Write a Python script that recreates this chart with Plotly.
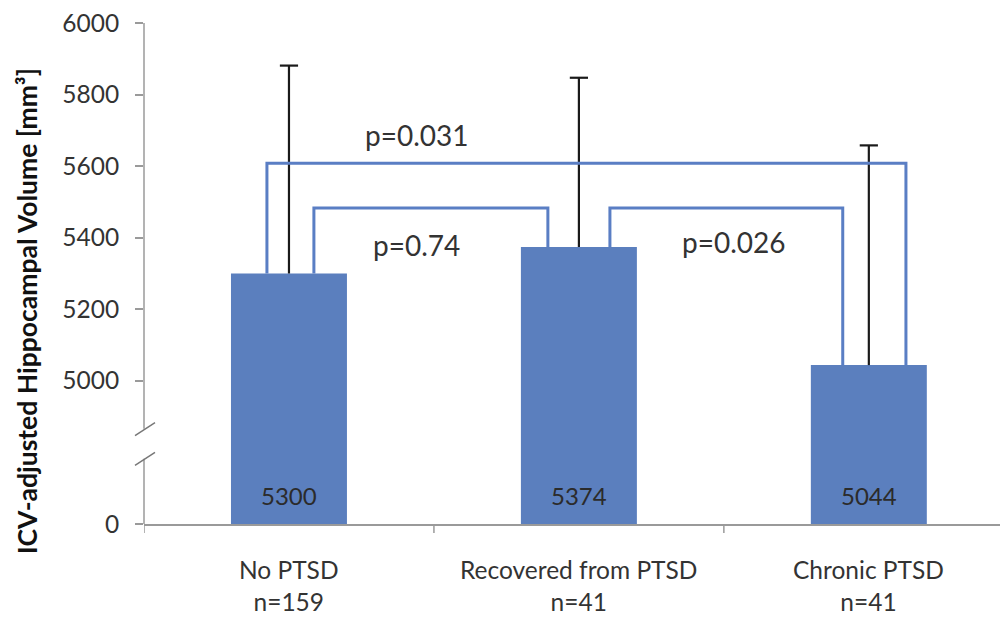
import plotly.graph_objects as go

# ---- data ----
groups = ["No PTSD", "Recovered from PTSD", "Chronic PTSD"]
n_sizes = [159, 41, 41]
means = [5300, 5374, 5044]
sds = [581, 473, 614]
y_ticks = [0, 5000, 5200, 5400, 5600, 5800, 6000]
# comparisons: (group a, group b, p-label, bracket height)
comparisons = [
    (0, 2, "p=0.031", 5608),
    (0, 1, "p=0.74", 5483),
    (1, 2, "p=0.026", 5483),
]

# ---- broken axis mapping: 0 drawn at 4600, values >= 4800 drawn as is ----
ZERO_DISP = 4600
def disp(v):
    return ZERO_DISP if v == 0 else v

BAR_COLOR = "#5b7fbe"
LINE_COLOR = "#5a7ec4"
AXIS_COLOR = "#9a9a9a"
FONT = "Lato"

fig = go.Figure()
fig.add_trace(go.Bar(
    x=list(range(len(groups))),
    y=[m - ZERO_DISP for m in means],
    base=[ZERO_DISP] * len(means),
    width=0.4,
    marker=dict(color=BAR_COLOR, line=dict(width=0)),
    hoverinfo="skip",
))

# one-sided error bars (upper only) with a cap at the top
ex, ey = [], []
for i, (m, s) in enumerate(zip(means, sds)):
    ex += [i, i, None]
    ey += [m, m + s, None]
fig.add_trace(go.Scatter(x=ex, y=ey, mode="lines",
                         line=dict(color="#1a1a1a", width=2.2),
                         hoverinfo="skip", cliponaxis=False))
fig.add_trace(go.Scatter(x=list(range(len(groups))),
                         y=[m + s for m, s in zip(means, sds)],
                         mode="markers", cliponaxis=False,
                         marker=dict(symbol="line-ew", size=13,
                                     line=dict(color="#1a1a1a", width=2.2)),
                         hoverinfo="skip"))

shapes = []
annotations = []

# bracket leg offsets (category units)
leg_offsets = {(0, 2): (-0.076, 0.128), (0, 1): (0.086, -0.107), (1, 2): (0.107, -0.090)}
label_pos = {"p=0.031": (0.44, 5686), "p=0.74": (0.44, 5380), "p=0.026": (1.534, 5389)}

for a, b, lab, h in comparisons:
    oa, ob = leg_offsets[(a, b)]
    xa, xb = a + oa, b + ob
    path = f"M {xa},{means[a]} L {xa},{h} L {xb},{h} L {xb},{means[b]}"
    shapes.append(dict(type="path", path=path, xref="x", yref="y",
                       line=dict(color=LINE_COLOR, width=3)))
    lx, ly = label_pos[lab]
    annotations.append(dict(x=lx, y=ly, xref="x", yref="y", text=lab,
                            showarrow=False, xanchor="center", yanchor="middle",
                            font=dict(family=FONT, size=28, color="#333333")))

# bar value labels near the bottom of each bar
for i, m in enumerate(means):
    annotations.append(dict(x=i, y=ZERO_DISP + 80, xref="x", yref="y",
                            text=str(m), showarrow=False,
                            font=dict(family=FONT, size=24, color="#2b2b2b")))

# category labels
for i, (g, n) in enumerate(zip(groups, n_sizes)):
    annotations.append(dict(x=i, y=-0.123, xref="x", yref="paper",
                            text=f"{g}<br>n={n}", showarrow=False,
                            xanchor="center", yanchor="middle",
                            font=dict(family=FONT, size=24.5, color="#333333")))

# y axis title
annotations.append(dict(x=-0.1354, y=0.4246, xref="paper", yref="paper",
                        text="<b>ICV-adjusted Hippocampal Volume [mm³]</b>",
                        textangle=-90, showarrow=False,
                        xanchor="center", yanchor="middle",
                        font=dict(family=FONT, size=26.5, color="#111111")))

# y axis line with break
shapes.append(dict(type="line", xref="paper", yref="y", x0=0, x1=0,
                   y0=4866, y1=6000, line=dict(color=AXIS_COLOR, width=1.5)))
shapes.append(dict(type="line", xref="paper", yref="y", x0=0, x1=0,
                   y0=ZERO_DISP, y1=4782, line=dict(color=AXIS_COLOR, width=1.5)))
for y0, y1 in [(4847, 4883), (4764, 4800)]:
    shapes.append(dict(type="line", xref="paper", yref="y", xsizemode="pixel",
                       xanchor=0, x0=-9, x1=11, y0=y0, y1=y1,
                       line=dict(color="#777777", width=1.5)))

# x-axis boundary ticks between categories
for bnd in [-0.5, 0.5, 1.5]:
    shapes.append(dict(type="line", xref="x", yref="paper", ysizemode="pixel",
                       yanchor=0, x0=bnd, x1=bnd, y0=0, y1=-9,
                       line=dict(color=AXIS_COLOR, width=1.5)))

# page body has an 8px margin, so the figure is 8px smaller each way
fig.update_layout(
    width=1000, height=613,
    margin=dict(l=136, r=0, t=12, b=97),
    paper_bgcolor="white", plot_bgcolor="white",
    showlegend=False,
    shapes=shapes,
    annotations=annotations,
    xaxis=dict(range=[-0.5, 2.48], showline=True,
               linecolor=AXIS_COLOR, linewidth=1.5, ticks="",
               showticklabels=False, showgrid=False, zeroline=False),
    yaxis=dict(range=[ZERO_DISP, 6000], tickvals=[disp(t) for t in y_ticks],
               ticktext=[str(t) for t in y_ticks], ticks="outside",
               ticklen=8, tickcolor=AXIS_COLOR, tickwidth=1.5,
               showline=False, showgrid=False, zeroline=False,
               ticklabelstandoff=11, ticklabeloverflow="allow",
               tickfont=dict(family=FONT, size=24.5, color="#333333")),
)

fig.write_html("out.html")
